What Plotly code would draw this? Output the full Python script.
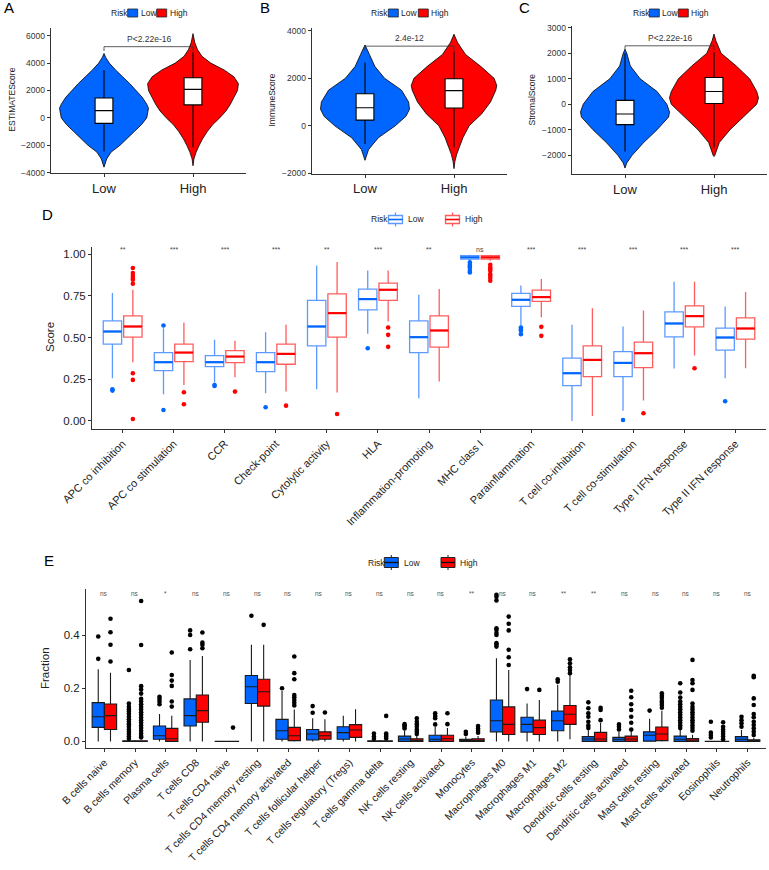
import plotly.graph_objects as go

W, H = 769, 870
FONT = "Liberation Sans, Arial, Helvetica, sans-serif"
BLUE = "#0066FF"
RED = "#FF0000"
AXC = "#333333"

# ---------------- Panels A-C (violins) ----------------
risk_groups = ["Low", "High"]
violin_titles = ["ESTIMATEScore", "ImmuneScore", "StromalScore"]
pval_text = ["P<2.22e-16", "2.4e-12", "P<2.22e-16"]
pval_y = [5200, 3350, 2290]
A_ticks = [-4000, -2000, 0, 2000, 4000, 6000]
B_ticks = [-2000, 0, 2000, 4000]
C_ticks = [-2000, -1000, 0, 1000, 2000, 3000]

# density profiles (value levels, half widths)
A_low_lvl = [-3600, -3000, -2500, -2000, -1500, -1000, -500, 0, 700, 1000, 1500, 2000, 2500, 3000, 3500, 4000, 4400, 4700]
A_low_w = [0, 0.03, 0.08, 0.18, 0.26, 0.34, 0.42, 0.48, 0.50, 0.48, 0.43, 0.36, 0.29, 0.21, 0.13, 0.06, 0.02, 0]
A_high_lvl = [-3500, -3000, -2500, -2000, -1500, -1000, -500, 0, 500, 1000, 1500, 2000, 2500, 3000, 3500, 4000, 4500, 5000, 5500, 6150]
A_high_w = [0, 0.01, 0.035, 0.07, 0.11, 0.16, 0.22, 0.30, 0.37, 0.42, 0.46, 0.50, 0.51, 0.46, 0.35, 0.20, 0.10, 0.05, 0.02, 0]
B_low_lvl = [-1450, -1000, -500, 0, 400, 700, 1000, 1500, 2000, 2500, 3000, 3400]
B_low_w = [0, 0.04, 0.15, 0.34, 0.46, 0.50, 0.49, 0.41, 0.22, 0.11, 0.05, 0]
B_high_lvl = [-1800, -1500, -1200, -900, -500, 0, 500, 1000, 1500, 1700, 2000, 2500, 3000, 3500, 3850]
B_high_w = [0, 0.01, 0.03, 0.06, 0.10, 0.17, 0.31, 0.41, 0.47, 0.48, 0.45, 0.30, 0.13, 0.04, 0]
C_low_lvl = [-2500, -2300, -2000, -1500, -1000, -500, -300, 0, 500, 1000, 1500, 2000, 2150]
C_low_w = [0, 0.02, 0.08, 0.21, 0.36, 0.49, 0.50, 0.47, 0.36, 0.17, 0.06, 0.02, 0]
C_high_lvl = [-2050, -2000, -1500, -1000, -500, 0, 250, 500, 1000, 1500, 2000, 2500, 2750]
C_high_w = [0, 0.01, 0.06, 0.18, 0.33, 0.48, 0.50, 0.48, 0.40, 0.25, 0.08, 0.02, 0]

# box stats [Low, High]
A_q1, A_med, A_q3, A_lo, A_hi = [-400, 950], [530, 2080], [1450, 2930], [-2450, -2150], [3480, 4800]
B_q1, B_med, B_q3, B_lo, B_hi = [240, 750], [760, 1480], [1350, 1980], [-760, -900], [2650, 3130]
C_q1, C_med, C_q3, C_lo, C_hi = [-800, 30], [-380, 500], [150, 1050], [-1850, -1700], [2000, 2050]

# ---------------- Panel D ----------------
d_cats = ["APC co inhibition", "APC co stimulation", "CCR", "Check-point", "Cytolytic activity", "HLA",
          "Inflammation-promoting", "MHC class I", "Parainflammation", "T cell co-inhibition",
          "T cell co-stimulation", "Type I IFN response", "Type II IFN response"]
d_sig = ["**", "***", "***", "***", "**", "***", "**", "ns", "***", "***", "***", "***", "***"]
d_low_q1 = [0.46, 0.302, 0.326, 0.296, 0.45, 0.666, 0.41, 0.97, 0.686, 0.212, 0.266, 0.504, 0.424]
d_low_med = [0.536, 0.352, 0.352, 0.352, 0.566, 0.73, 0.502, 0.98, 0.726, 0.286, 0.348, 0.584, 0.50]
d_low_q3 = [0.60, 0.41, 0.392, 0.41, 0.722, 0.79, 0.60, 0.99, 0.764, 0.376, 0.416, 0.654, 0.556]
d_low_lo = [0.256, 0.16, 0.23, 0.166, 0.19, 0.522, 0.136, 0.96, 0.57, 0.0, 0.062, 0.314, 0.256]
d_low_hi = [0.766, 0.556, 0.486, 0.532, 0.932, 0.902, 0.756, 0.996, 0.812, 0.576, 0.566, 0.834, 0.686]
d_low_out = [[0.19, 0.182], [0.572, 0.066], [0.216, 0.21], [0.082], [], [0.436], [],
             [0.95, 0.936, 0.926, 0.916, 0.9, 0.89], [0.56, 0.55, 0.54, 0.52], [], [0.006], [], [0.118]]
d_high_q1 = [0.502, 0.356, 0.35, 0.34, 0.502, 0.722, 0.442, 0.97, 0.716, 0.266, 0.32, 0.564, 0.49]
d_high_med = [0.566, 0.41, 0.386, 0.402, 0.646, 0.786, 0.542, 0.98, 0.742, 0.366, 0.406, 0.628, 0.554]
d_high_q3 = [0.63, 0.46, 0.422, 0.46, 0.762, 0.826, 0.63, 0.99, 0.784, 0.45, 0.472, 0.69, 0.618]
d_high_lo = [0.352, 0.216, 0.262, 0.176, 0.17, 0.596, 0.236, 0.96, 0.622, 0.03, 0.122, 0.392, 0.316]
d_high_hi = [0.786, 0.59, 0.48, 0.576, 0.952, 0.902, 0.79, 0.996, 0.85, 0.676, 0.662, 0.834, 0.772]
d_high_out = [[0.916, 0.886, 0.87, 0.856, 0.846, 0.822, 0.286, 0.246, 0.012], [0.172, 0.10], [0.176], [0.092],
              [0.042], [0.56, 0.516, 0.444], [], [0.936, 0.92, 0.91, 0.9, 0.88, 0.87, 0.856, 0.84],
              [0.564, 0.51], [], [0.046], [0.316], []]
d_ticks = [0, 0.25, 0.5, 0.75, 1.0]
d_ticktext = ["0.00", "0.25", "0.50", "0.75", "1.00"]

# ---------------- Panel E ----------------
e_cats = ["B cells naive", "B cells memory", "Plasma cells", "T cells CD8", "T cells CD4 naive",
          "T cells CD4 memory resting", "T cells CD4 memory activated", "T cells follicular helper",
          "T cells regulatory (Tregs)", "T cells gamma delta", "NK cells resting", "NK cells activated",
          "Monocytes", "Macrophages M0", "Macrophages M1", "Macrophages M2", "Dendritic cells resting",
          "Dendritic cells activated", "Mast cells resting", "Mast cells activated", "Eosinophils", "Neutrophils"]
e_sig = ["ns", "ns", "*", "ns", "ns", "ns", "ns", "ns", "ns", "ns", "ns", "ns", "**", "ns", "ns", "**", "**",
         "ns", "ns", "ns", "ns", "ns"]
e_low_q1 = [0.053, 0, 0.008, 0.058, 0, 0.143, 0.008, 0.005, 0.008, 0, 0, 0, 0, 0.036, 0.035, 0.04, 0, 0, 0.001, 0, 0, 0]
e_low_med = [0.093, 0, 0.021, 0.097, 0, 0.206, 0.04, 0.028, 0.033, 0, 0.009, 0.008, 0.002, 0.078, 0.064, 0.078,
             0.009, 0.008, 0.023, 0.008, 0, 0.008]
e_low_q3 = [0.146, 0.002, 0.058, 0.16, 0, 0.248, 0.083, 0.045, 0.055, 0.002, 0.02, 0.023, 0.008, 0.156, 0.091,
            0.114, 0.018, 0.015, 0.036, 0.02, 0, 0.018]
e_low_lo = [0] * 22
e_low_hi = [0.272, 0.004, 0.103, 0.307, 0, 0.364, 0.19, 0.087, 0.097, 0.004, 0.04, 0.055, 0.018, 0.313, 0.143,
            0.213, 0.042, 0.036, 0.085, 0.045, 0, 0.043]
e_low_out = [[0.395, 0.311],
             [0.269, 0.143, 0.13, 0.12, 0.112, 0.103, 0.093, 0.083, 0.074, 0.065, 0.055, 0.045, 0.036, 0.028, 0.018, 0.01],
             [0.168, 0.16, 0.15, 0.14], [0.418, 0.401, 0.347], [], [0.473], [0.2], [0.133, 0.108], [],
             [0.03, 0.018, 0.01], [0.065, 0.06, 0.055, 0.049], [0.106, 0.096, 0.087, 0.064], [0.036, 0.028],
             [0.552, 0.545, 0.531, 0.426, 0.42, 0.408, 0.401, 0.37, 0.364, 0.357], [0.197], [0.234, 0.225],
             [0.147, 0.125, 0.106, 0.093, 0.074, 0.06, 0.05], [0.064, 0.055, 0.045], [0.116],
             [0.219, 0.184, 0.165, 0.15, 0.14, 0.13, 0.12, 0.11, 0.10, 0.09, 0.08, 0.07, 0.06, 0.05],
             [0.074, 0.033, 0.024, 0.015], [0.093, 0.08, 0.068, 0.055]]
e_high_q1 = [0.045, 0, 0, 0.072, 0, 0.133, 0.003, 0.008, 0.015, 0, 0, 0, 0, 0.026, 0.026, 0.064, 0, 0, 0.003, 0, 0, 0]
e_high_med = [0.097, 0, 0.01, 0.116, 0, 0.187, 0.021, 0.021, 0.043, 0, 0.003, 0.01, 0.003, 0.064, 0.052, 0.102,
              0.009, 0.009, 0.028, 0.005, 0, 0.004]
e_high_q3 = [0.141, 0.002, 0.049, 0.175, 0, 0.234, 0.053, 0.036, 0.063, 0.002, 0.01, 0.023, 0.01, 0.13, 0.08,
             0.135, 0.034, 0.02, 0.054, 0.011, 0, 0.006]
e_high_lo = [0] * 15 + [0.008] + [0] * 6
e_high_hi = [0.259, 0.004, 0.097, 0.322, 0, 0.364, 0.12, 0.083, 0.121, 0.004, 0.022, 0.05, 0.02, 0.269, 0.156,
             0.25, 0.07, 0.04, 0.115, 0.025, 0, 0.014]
e_high_out = [[0.462, 0.411, 0.364, 0.301],
              [0.529, 0.363, 0.208, 0.195, 0.18, 0.16, 0.15, 0.14, 0.13, 0.12, 0.11, 0.10, 0.09, 0.08, 0.07, 0.06,
               0.05, 0.04, 0.03, 0.02, 0.015],
              [0.335, 0.25, 0.229, 0.209, 0.15, 0.131], [0.41, 0.372, 0.364, 0.351], [0.052], [0.439],
              [0.32, 0.257, 0.234, 0.175, 0.166, 0.156, 0.146, 0.135], [0.109], [],
              [0.096, 0.03, 0.024, 0.018, 0.011], [0.087, 0.074, 0.065, 0.055, 0.045, 0.036, 0.028],
              [0.106, 0.065], [0.058, 0.049, 0.04, 0.033], [0.47, 0.443, 0.418, 0.345, 0.317, 0.288], [0.194],
              [0.309, 0.294, 0.279, 0.269, 0.257], [0.127, 0.118, 0.08],
              [0.191, 0.166, 0.14, 0.118, 0.093, 0.07, 0.045],
              [0.181, 0.172, 0.164, 0.153, 0.146, 0.137, 0.127],
              [0.307, 0.231, 0.219, 0.194, 0.143, 0.13, 0.12, 0.11, 0.10, 0.09, 0.08, 0.07, 0.06, 0.05, 0.04],
              [0.072, 0.055, 0.045, 0.036, 0.028, 0.018, 0.008],
              [0.247, 0.242, 0.162, 0.137, 0.103, 0.091, 0.074, 0.062, 0.049, 0.036, 0.024]]
e_ticks = [0, 0.2, 0.4]
e_ticktext = ["0.0", "0.2", "0.4"]


def px(x):
    return x / W


def py(y):
    return 1 - y / H


fig = go.Figure()
shapes = []
annots = []

# ---------- violins (drawn as data-coordinate paths below the box traces) ----------
violin_data = [
    ("x", "y", [(A_low_lvl, A_low_w), (A_high_lvl, A_high_w)], (A_q1, A_med, A_q3, A_lo, A_hi)),
    ("x2", "y2", [(B_low_lvl, B_low_w), (B_high_lvl, B_high_w)], (B_q1, B_med, B_q3, B_lo, B_hi)),
    ("x3", "y3", [(C_low_lvl, C_low_w), (C_high_lvl, C_high_w)], (C_q1, C_med, C_q3, C_lo, C_hi)),
]
grp_colors = [BLUE, RED]
for k, (xa, ya, profiles, stats) in enumerate(violin_data):
    for g, (lvl, wd) in enumerate(profiles):
        c = g + 1
        xs = [c + w for w in wd] + [c - w for w in reversed(wd)]
        ys = list(lvl) + list(reversed(lvl))
        path = "M " + " L ".join(f"{x},{y}" for x, y in zip(xs, ys)) + " Z"
        shapes.append(dict(type="path", xref=xa, yref=ya, path=path, fillcolor=grp_colors[g],
                           line=dict(color="black", width=0.8), layer="below"))
    q1, med, q3, lo, hi = stats
    fig.add_trace(go.Box(x=[1, 2], q1=q1, median=med, q3=q3, lowerfence=lo, upperfence=hi,
                         width=0.2, whiskerwidth=0, fillcolor="white",
                         line=dict(color="black", width=1.1), xaxis=xa, yaxis=ya, showlegend=False))

# ---------- D boxes ----------
d_colors_line = ["rgba(30,115,255,0.72)", "rgba(255,30,30,0.72)"]
d_sets = [
    (d_low_q1, d_low_med, d_low_q3, d_low_lo, d_low_hi, d_low_out, -0.2, BLUE, d_colors_line[0]),
    (d_high_q1, d_high_med, d_high_q3, d_high_lo, d_high_hi, d_high_out, 0.2, RED, d_colors_line[1]),
]
DW = 0.36
for q1, med, q3, lo, hi, out, off, col, lcol in d_sets:
    pos = [i + off for i in range(len(d_cats))]
    fig.add_trace(go.Box(x=pos, q1=q1, median=med, q3=q3, lowerfence=lo, upperfence=hi, width=DW,
                         whiskerwidth=0, fillcolor="rgba(255,255,255,0)", line=dict(color=lcol, width=1.3),
                         xaxis="x4", yaxis="y4", showlegend=False))
    mx, my = [], []
    for p, m in zip(pos, med):
        mx += [p - DW / 2, p + DW / 2, None]
        my += [m, m, None]
    fig.add_trace(go.Scatter(x=mx, y=my, mode="lines", line=dict(color=col, width=2.2),
                             xaxis="x4", yaxis="y4", showlegend=False, hoverinfo="skip"))
    ox, oy = [], []
    for p, o in zip(pos, out):
        ox += [p] * len(o)
        oy += o
    fig.add_trace(go.Scatter(x=ox, y=oy, mode="markers", marker=dict(color=col, size=4.6),
                             xaxis="x4", yaxis="y4", showlegend=False))

# ---------- E boxes ----------
e_sets = [
    (e_low_q1, e_low_med, e_low_q3, e_low_lo, e_low_hi, e_low_out, -0.2, BLUE),
    (e_high_q1, e_high_med, e_high_q3, e_high_lo, e_high_hi, e_high_out, 0.2, RED),
]
for q1, med, q3, lo, hi, out, off, col in e_sets:
    pos = [i + off for i in range(len(e_cats))]
    fig.add_trace(go.Box(x=pos, q1=q1, median=med, q3=q3, lowerfence=lo, upperfence=hi, width=0.4,
                         whiskerwidth=0, fillcolor=col, line=dict(color="#1a1a1a", width=1.1),
                         xaxis="x5", yaxis="y5", showlegend=False))
    ox, oy = [], []
    for p, o in zip(pos, out):
        ox += [p] * len(o)
        oy += o
    fig.add_trace(go.Scatter(x=ox, y=oy, mode="markers", marker=dict(color="black", size=4.6),
                             xaxis="x5", yaxis="y5", showlegend=False))


# ---------- axes ----------
def axis_common(**kw):
    d = dict(showline=True, linecolor=AXC, linewidth=1, ticks="outside", ticklen=3, tickcolor=AXC,
             showgrid=False, zeroline=False, automargin=False, tickfont=dict(family=FONT, color="#333333"))
    d.update(kw)
    return d


layout = dict(
    template="none",
    width=W, height=H, margin=dict(l=0, r=0, t=0, b=0, pad=0, autoexpand=False), autosize=False,
    plot_bgcolor="white", paper_bgcolor="white", boxmode="overlay", showlegend=False,
    font=dict(family=FONT, color="black"),
)
vi_panels = [
    ("xaxis", "yaxis", "y", "x", (50.6, 246.4), (28, 173), [-4025, 6564], A_ticks),
    ("xaxis2", "yaxis2", "y2", "x2", (311.6, 507.4), (28, 173.7), [-2013, 4113], B_ticks),
    ("xaxis3", "yaxis3", "y3", "x3", (571.6, 767.4), (26, 174), [-2733, 3066], C_ticks),
]
for xk, yk, yanc, xanc, (x0, x1), (t, b), yr, yt in vi_panels:
    tf = dict(family=FONT, color="#222222", size=13)
    layout[xk] = axis_common(domain=[px(x0), px(x1)], anchor=yanc, range=[0.4, 2.6], tickvals=[1, 2],
                             ticktext=risk_groups, tickfont=tf)
    layout[yk] = axis_common(domain=[py(b), py(t)], anchor=xanc, range=yr, tickvals=yt,
                             tickfont=dict(family=FONT, color="#333333", size=8.5))

layout["xaxis4"] = axis_common(domain=[px(92), px(766)], anchor="y4", range=[-0.6, len(d_cats) - 0.4],
                               tickvals=list(range(len(d_cats))), ticktext=d_cats, tickangle=-45,
                               tickfont=dict(family=FONT, color="#222222", size=11))
layout["yaxis4"] = axis_common(domain=[py(429), py(246.7)], anchor="x4", range=[-0.048, 1.044],
                               tickvals=d_ticks, ticktext=d_ticktext,
                               tickfont=dict(family=FONT, color="#222222", size=11.5))
layout["xaxis5"] = axis_common(domain=[px(86), px(766)], anchor="y5", range=[-0.6, len(e_cats) - 0.4],
                               tickvals=list(range(len(e_cats))), ticktext=e_cats, tickangle=-45,
                               tickfont=dict(family=FONT, color="#222222", size=10.5))
layout["yaxis5"] = axis_common(domain=[py(748.3), py(589)], anchor="x5", range=[-0.026, 0.574],
                               tickvals=e_ticks, ticktext=e_ticktext,
                               tickfont=dict(family=FONT, color="#222222", size=11.5))

# ---------- p-value brackets ----------
vi_ranges = [(-4025, 6564), (-2013, 4113), (-2733, 3066)]
for k, (xa, ya) in enumerate([("x", "y"), ("x2", "y2"), ("x3", "y3")]):
    yv = pval_y[k]
    tip = 0.03 * (vi_ranges[k][1] - vi_ranges[k][0])
    ln = dict(color="#333333", width=0.8)
    shapes.append(dict(type="line", xref=xa, yref=ya, x0=1, x1=2, y0=yv, y1=yv, line=ln))
    shapes.append(dict(type="line", xref=xa, yref=ya, x0=1, x1=1, y0=yv, y1=yv - tip, line=ln))
    shapes.append(dict(type="line", xref=xa, yref=ya, x0=2, x1=2, y0=yv, y1=yv - tip, line=ln))
    annots.append(dict(xref=xa, yref=ya, x=1.5, y=yv, text=pval_text[k], showarrow=False, yanchor="bottom",
                       yshift=1, font=dict(size=8.5, color="#333333", family=FONT)))

# y titles
for txt_, xc, yc, sz in [(violin_titles[0], 11.7, 100, 8.5), (violin_titles[1], 271.5, 100, 8.5),
                         (violin_titles[2], 531.5, 100, 8.5), ("Score", 50, 337, 11.5),
                         ("Fraction", 45, 668, 11.5)]:
    annots.append(dict(xref="paper", yref="paper", x=px(xc), y=py(yc), text=txt_, textangle=-90,
                       showarrow=False, xanchor="center", yanchor="middle",
                       font=dict(size=sz, color="#222222", family=FONT)))

# panel letters
for txt_, xl, yc in [("A", 2, 8), ("B", 258, 8), ("C", 517, 8), ("D", 40, 214), ("E", 41.5, 560)]:
    annots.append(dict(xref="paper", yref="paper", x=px(xl), y=py(yc), text=txt_, showarrow=False,
                       xanchor="left", yanchor="middle", font=dict(size=15, color="black", family=FONT)))

# significance labels
for i, s in enumerate(d_sig):
    annots.append(dict(xref="x4", yref="y4", x=i, y=1.025, text=s, showarrow=False, yanchor="middle",
                       font=dict(size=7, color="#444444", family=FONT)))
for i, s in enumerate(e_sig):
    annots.append(dict(xref="x5", yref="y5", x=i, y=0.556, text=s, showarrow=False, yanchor="middle",
                       font=dict(size=6.5, color="#555555", family=FONT)))


# ---------- legends ----------
def txt(x, y, s, size=8.5):
    annots.append(dict(xref="paper", yref="paper", x=px(x), y=py(y), text=s, showarrow=False,
                       xanchor="left", yanchor="middle", font=dict(size=size, color="#222222", family=FONT)))


def rect(x0, x1, y0, y1, fill, line, lw=1):
    shapes.append(dict(type="rect", xref="paper", yref="paper", x0=px(x0), x1=px(x1), y0=py(y1), y1=py(y0),
                       fillcolor=fill, line=dict(color=line, width=lw)))


def pline(x0, y0, x1, y1, col, lw=1):
    shapes.append(dict(type="line", xref="paper", yref="paper", x0=px(x0), x1=px(x1), y0=py(y0), y1=py(y1),
                       line=dict(color=col, width=lw)))


# A-C violin legends
for (rx, bx, lx, rdx, hx) in [(110, 127.7, 138.5, 156.7, 168.3), (370, 388.3, 399.3, 418.3, 429.3),
                              (631.7, 649.3, 659.8, 678.3, 689.3)]:
    txt(rx - 1, 13, "Risk")
    rect(bx, bx + 10, 9, 17, BLUE, "#222222", 0.8)
    txt(lx, 13, risk_groups[0])
    rect(rdx, rdx + 10, 9, 17, RED, "#222222", 0.8)
    txt(hx, 13, risk_groups[1])

# D legend
txt(368.5, 219.5, "Risk")
for (kx, tx, lc, mc, lab) in [(388.5, 405.5, d_colors_line[0], BLUE, risk_groups[0]),
                              (445.5, 462.5, d_colors_line[1], RED, risk_groups[1])]:
    cx = kx + 7
    pline(cx, 212.5, cx, 215.5, lc, 1.2)
    pline(cx, 223.5, cx, 226.5, lc, 1.2)
    rect(kx, kx + 14, 215.5, 223.5, "white", lc, 1.3)
    pline(kx, 219.5, kx + 14, 219.5, mc, 1.6)
    txt(tx, 219.5, lab)

# E legend
txt(365.5, 562.5, "Risk")
for (kx, tx, fc, lab) in [(384.3, 402, BLUE, risk_groups[0]), (441, 458.3, RED, risk_groups[1])]:
    cx = kx + 7
    pline(cx, 555, cx, 557.5, "#222222", 1)
    pline(cx, 567.5, cx, 570, "#222222", 1)
    rect(kx, kx + 14, 557.5, 567.5, fc, "#222222", 1)
    pline(kx, 562.5, kx + 14, 562.5, "#111111", 1.4)
    txt(tx, 562.5, lab)

layout["shapes"] = shapes
layout["annotations"] = annots
fig.update_layout(**layout)
fig.write_html("out.html", config={"displayModeBar": False, "staticPlot": True},
               post_script="document.body.style.margin='0';document.body.style.padding='0';"
                           "document.body.style.overflow='hidden';")
